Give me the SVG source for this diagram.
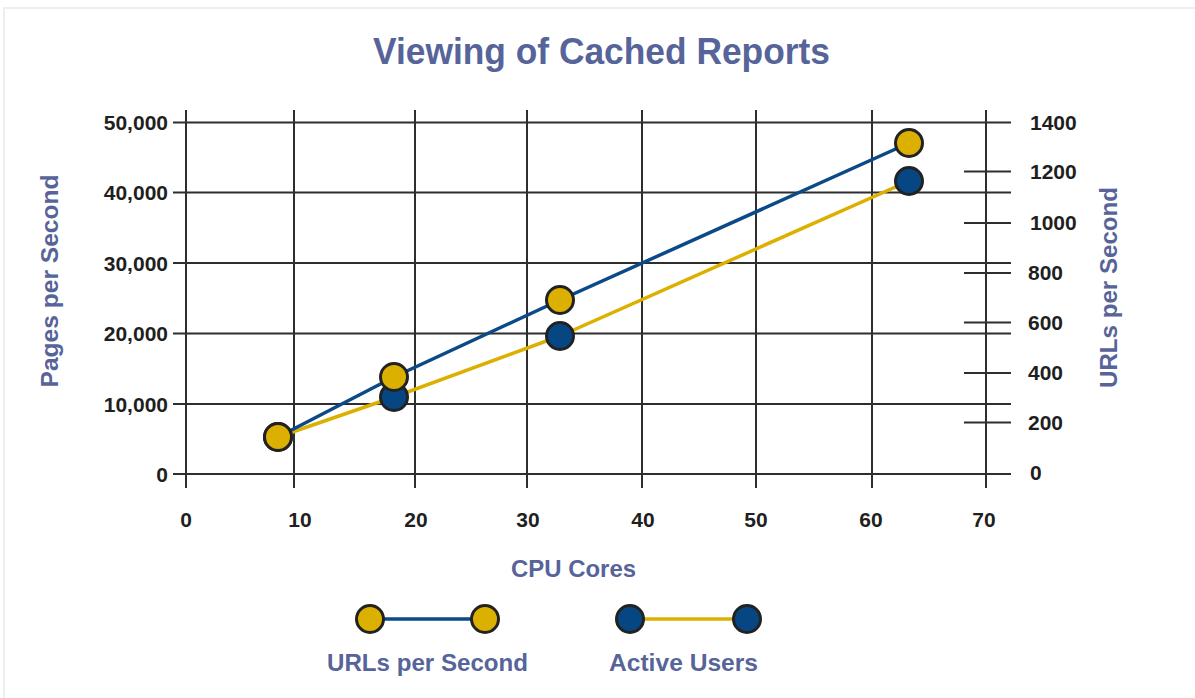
<svg xmlns="http://www.w3.org/2000/svg" width="1195" height="698" viewBox="0 0 1195 698">
<style>
.bg{fill:#ffffff}
.frame{fill:#ffffff;stroke:#efefef;stroke-width:2}
.grid{stroke:#2e2e2e;stroke-width:2;fill:none}
.tick{font-family:"Liberation Sans",Arial,sans-serif;font-weight:bold;font-size:21px;fill:#1f1f1f}
.ttl{font-family:"Liberation Sans",Arial,sans-serif;font-weight:bold;fill:#56649a}
.lblue{stroke:#0b4a87;stroke-width:3.5;fill:none;stroke-linejoin:round}
.lgold{stroke:#dcb000;stroke-width:3.5;fill:none;stroke-linejoin:round}
.pgold{fill:#dcb000;stroke:#222222;stroke-width:3}
.pblue{fill:#064783;stroke:#222222;stroke-width:3}
</style>
<rect class="bg" x="0" y="0" width="1195" height="698"/>
<rect class="frame" x="4" y="8" width="1200" height="700"/>

<g id="title">
<text class="ttl" x="601.5" y="64" font-size="36" text-anchor="middle" textLength="457" lengthAdjust="spacingAndGlyphs">Viewing of Cached Reports</text>
</g>

<g id="grid">
<path class="grid" d="M186 110V488M294 110V488M415 110V488M527 110V488M642 110V488M756 110V488M872 110V488M986 110V488"/>
<path class="grid" d="M173 122.5H1011M173 192.5H1011M173 263H1011M173 333.5H1011M173 404H1011M173 474H1011"/>
<path class="grid" d="M964 171.5H1011M964 223H1011M964 273H1011M964 322.5H1011M964 373H1011M964 422.5H1011"/>
</g>

<g id="left-axis">
<text class="tick" x="168" y="130" text-anchor="end">50,000</text>
<text class="tick" x="168" y="200" text-anchor="end">40,000</text>
<text class="tick" x="168" y="270.5" text-anchor="end">30,000</text>
<text class="tick" x="168" y="341" text-anchor="end">20,000</text>
<text class="tick" x="168" y="411.5" text-anchor="end">10,000</text>
<text class="tick" x="168" y="481.5" text-anchor="end">0</text>
<text class="ttl" font-size="24" transform="translate(58,281) rotate(-90)" text-anchor="middle" textLength="213" lengthAdjust="spacingAndGlyphs">Pages per Second</text>
</g>

<g id="right-axis">
<text class="tick" x="1030" y="130">1400</text>
<text class="tick" x="1030" y="178.5">1200</text>
<text class="tick" x="1030" y="229.5">1000</text>
<text class="tick" x="1028" y="280">800</text>
<text class="tick" x="1028" y="330">600</text>
<text class="tick" x="1028" y="380">400</text>
<text class="tick" x="1028" y="430">200</text>
<text class="tick" x="1030" y="480">0</text>
<text class="ttl" font-size="24" transform="translate(1117,287.5) rotate(-90)" text-anchor="middle" textLength="201" lengthAdjust="spacingAndGlyphs">URLs per Second</text>
</g>

<g id="x-axis">
<text class="tick" x="186" y="527" text-anchor="middle">0</text>
<text class="tick" x="300" y="527" text-anchor="middle">10</text>
<text class="tick" x="416" y="527" text-anchor="middle">20</text>
<text class="tick" x="528" y="527" text-anchor="middle">30</text>
<text class="tick" x="643" y="527" text-anchor="middle">40</text>
<text class="tick" x="756" y="527" text-anchor="middle">50</text>
<text class="tick" x="871" y="527" text-anchor="middle">60</text>
<text class="tick" x="984" y="527" text-anchor="middle">70</text>
<text class="ttl" x="573.5" y="577" font-size="24" text-anchor="middle" textLength="125" lengthAdjust="spacingAndGlyphs">CPU Cores</text>
</g>

<g id="connectors">
<polyline class="lgold" points="278,437 394,397 560,336 909,181"/>
<polyline class="lblue" points="278,437 394,377 560,300 909,143"/>
</g>

<g id="active-users-points">
<circle class="pblue" cx="278" cy="437" r="13.5"/>
<circle class="pblue" cx="394" cy="397" r="13.5"/>
<circle class="pblue" cx="560" cy="336" r="13.5"/>
<circle class="pblue" cx="909" cy="181" r="13.5"/>
</g>

<g id="urls-points">
<circle class="pgold" cx="278" cy="437" r="13.5"/>
<circle class="pgold" cx="394" cy="377" r="13.5"/>
<circle class="pgold" cx="560" cy="300" r="13.5"/>
<circle class="pgold" cx="909" cy="143" r="13.5"/>
</g>

<g id="legend-urls">
<line class="lblue" x1="370" y1="619" x2="485" y2="619"/>
<circle class="pgold" cx="370" cy="619" r="13.5"/>
<circle class="pgold" cx="485" cy="619" r="13.5"/>
<text class="ttl" x="427.5" y="671" font-size="24" text-anchor="middle" textLength="201" lengthAdjust="spacingAndGlyphs">URLs per Second</text>
</g>

<g id="legend-users">
<line class="lgold" x1="630" y1="619" x2="747" y2="619"/>
<circle class="pblue" cx="630" cy="619" r="13.5"/>
<circle class="pblue" cx="747" cy="619" r="13.5"/>
<text class="ttl" x="683.5" y="671" font-size="24" text-anchor="middle" textLength="149" lengthAdjust="spacingAndGlyphs">Active Users</text>
</g>
</svg>
